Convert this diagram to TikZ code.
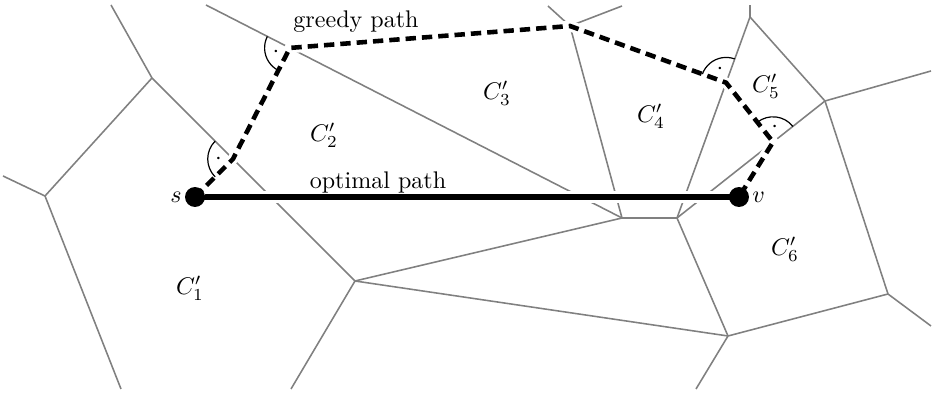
\documentclass[tikz,border=0pt]{standalone}
\usetikzlibrary{calc,angles,quotes}
\begin{document}
\begin{tikzpicture}[x=0.0146cm,y=-0.0146cm,
  vor/.style={draw=black!50, line width=0.65pt},
  optpath/.style={draw=black, line width=2.2pt, preaction={draw=white, line width=5.2pt}},
  halo/.style={draw=white, line width=4.4pt},
  greedy/.style={draw=black, line width=1.9pt, dash pattern=on 4.3pt off 2.5pt},
  rmark/.style={draw, line width=0.5pt, angle radius=10.5pt, angle eccentricity=0.58},
  dot/.style={circle, fill=black, inner sep=0pt, minimum size=8.3pt},
  lbl/.style={inner sep=1pt}]
\useasboundingbox (0,0) rectangle (933,393);
% Voronoi vertices
\coordinate (A) at (45,196);
\coordinate (B) at (152,78);
\coordinate (D) at (355,281);
\coordinate (E) at (622,218);
\coordinate (F) at (677,218);
\coordinate (G) at (570,26);
\coordinate (H) at (750,17);
\coordinate (I) at (825,101);
\coordinate (J) at (728,336);
\coordinate (K) at (888,294);
% free ends
\coordinate (Al) at (3,176);
\coordinate (Ab) at (121,389);
\coordinate (Bt) at (111,5);
\coordinate (Db) at (291,389);
\coordinate (Et) at (206,5);
\coordinate (Gl) at (548,6);
\coordinate (Gr) at (622,6);
\coordinate (Ht) at (750,5);
\coordinate (Ir) at (931,71);
\coordinate (Kr) at (931,326);
\coordinate (Jb) at (696,389);
% edges
\draw[vor] (A) -- (Al);
\draw[vor] (A) -- (Ab);
\draw[vor] (A) -- (B);
\draw[vor] (B) -- (Bt);
\draw[vor] (B) -- (D);
\draw[vor] (D) -- (Db);
\draw[vor] (D) -- (E);
\draw[vor] (D) -- (J);
\draw[vor] (E) -- (F);
\draw[vor] (E) -- (Et);
\draw[vor] (E) -- (G);
\draw[vor] (G) -- (Gl);
\draw[vor] (G) -- (Gr);
\draw[vor] (F) -- (H);
\draw[vor] (H) -- (Ht);
\draw[vor] (H) -- (I);
\draw[vor] (F) -- (I);
\draw[vor] (F) -- (J);
\draw[vor] (I) -- (Ir);
\draw[vor] (I) -- (K);
\draw[vor] (K) -- (Kr);
\draw[vor] (K) -- (J);
\draw[vor] (J) -- (Jb);
% path points
\coordinate (s) at (195,197);
\coordinate (v) at (739,197);
\coordinate (P1) at ($(B)!(s)!(D)$);
\coordinate (P2) at ($(Et)!(P1)!(E)$);
\coordinate (P4) at ($(F)!(G)!(H)$);
\coordinate (P5) at ($(F)!(P4)!(I)$);
% paths
\draw[optpath] (s) -- (v);
\draw[halo] (s) -- (P1) -- (P2) -- (G) -- (P4) -- (P5) -- (v);
\draw[greedy] (s) -- (P1) -- (P2) -- (G) -- (P4) -- (P5) -- (v);
% right-angle marks
\pic[rmark, "$\cdot$"] {angle = B--P1--s};
\pic[rmark, "$\cdot$"] {angle = Et--P2--P1};
\pic[rmark, "$\cdot$"] {angle = H--P4--G};
\pic[rmark, "$\cdot$"] {angle = I--P5--P4};
% endpoints
\node[dot] (sdot) at (s) {};
\node[dot] (vdot) at (v) {};
\node[lbl, left] (slab) at (sdot.west) {$s$};
\node[lbl, right] (vlab) at (vdot.east) {$v$};
% labels
\node (greedylab) at (356,22) {greedy path};
\node (optlab) at (378,182) {optimal path};
\node (c1) at (190,288) {$C'_1$};
\node (c2) at (324,135) {$C'_2$};
\node (c3) at (497,93) {$C'_3$};
\node (c4) at (651,116) {$C'_4$};
\node (c5) at (766,86) {$C'_5$};
\node (c6) at (785,249) {$C'_6$};
\end{tikzpicture}
\end{document}
